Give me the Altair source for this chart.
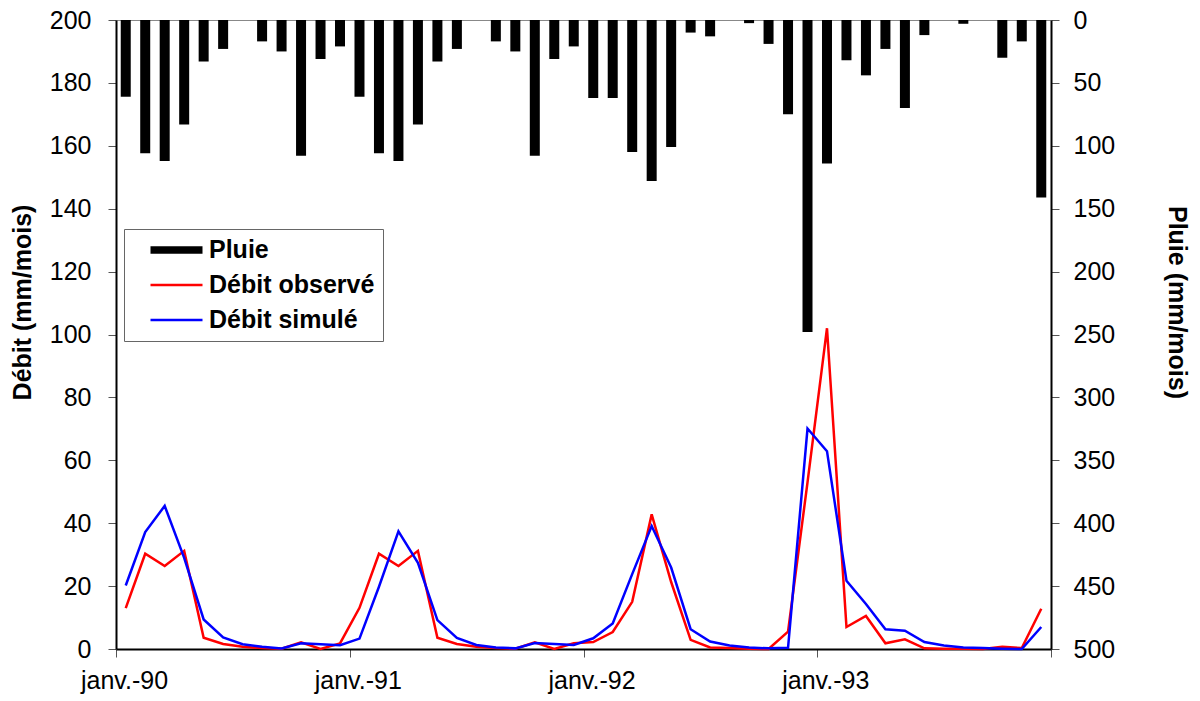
import altair as alt
import pandas as pd

# ---- data (monthly, Jan 1990 -> Dec 1993) ----
x_labels = ["janv.-90", "janv.-91", "janv.-92", "janv.-93"]
month_index = list(range(48))

pluie = [61, 106, 112, 83, 33, 23, 0, 17, 25, 108, 31, 21,
         61, 106, 112, 83, 33, 23, 0, 17, 25, 108, 31, 21,
         62, 62, 105, 128, 101, 10, 13, 0, 2.5, 19, 75, 248,
         114, 32, 44, 23, 70, 12, 0, 3, 0, 30, 17, 141]

debit_obs = [13.0, 30.3, 26.4, 31.2, 3.6, 1.6, 0.7, 0.3, 0.1, 2.1, 0.0, 1.8,
             13.1, 30.3, 26.4, 31.2, 3.6, 1.6, 0.7, 0.3, 0.1, 2.1, 0.0, 1.8,
             2.2, 5.4, 15.0, 42.8, 21.3, 2.9, 0.5, 0.3, 0.1, 0.0, 5.5, 53.0,
             102.0, 7.0, 10.5, 1.8, 3.1, 0.2, 0.1, 0.05, 0.0, 0.7, 0.3, 12.8]

debit_sim = [20.2, 37.2, 45.5, 29.0, 9.4, 3.7, 1.5, 0.7, 0.2, 1.8, 1.5, 1.2,
             3.3, 19.8, 37.4, 27.4, 9.2, 3.5, 1.3, 0.5, 0.2, 1.9, 1.6, 1.3,
             3.4, 8.1, 23.8, 39.1, 25.9, 6.3, 2.4, 1.1, 0.5, 0.2, 0.4, 70.1,
             62.9, 21.7, 14.3, 6.3, 5.8, 2.2, 1.1, 0.5, 0.3, 0.1, 0.0, 7.0]

series = ["Pluie", "Débit observé", "Débit simulé"]
colors = ["#000000", "#FF0000", "#0000FF"]

FONT = "Liberation Sans"

# month centres sit in the middle of each monthly category
centres = [m + 0.5 for m in month_index]

df_bar = pd.DataFrame({"t": centres, "pluie": pluie, "serie": series[0]})
df_line = pd.concat([
    pd.DataFrame({"t": centres, "debit": debit_obs, "serie": series[1]}),
    pd.DataFrame({"t": centres, "debit": debit_sim, "serie": series[2]}),
], ignore_index=True)

label_expr = "[" + ",".join("'" + s + "'" for s in x_labels + [""]) + "][datum.value / 12]"

x_enc = alt.X(
    "t:Q",
    scale=alt.Scale(domain=[0, 48], nice=False, zero=False, padding=0),
    axis=alt.Axis(
        values=[0, 12, 24, 36, 48], labelExpr=label_expr, labelOffset=8,
        labelFlush=False, labelOverlap=False, title=None, grid=False,
        tickSize=8, tickColor="#555", tickWidth=1,
        domainColor="#000", domainWidth=2, labelPadding=11,
        labelFontSize=25, labelFont=FONT, labelColor="#000",
    ),
)

color_scale = alt.Scale(domain=series, range=colors)

legend = alt.Legend(
    title=None, orient="none", legendX=8, legendY=209,
    symbolType="stroke", symbolSize=2704,
    symbolStrokeWidth={"expr": "datum.value === '" + series[0] + "' ? 7.5 : 2.5"},
    clipHeight=26, rowPadding=9, padding=8, symbolOffset=32, labelOffset=20,
    labelFontSize=25, labelFontWeight="bold", labelFont=FONT, labelColor="#000",
    labelLimit=400, strokeColor="#666", fillColor="#FFFFFF",
)

bars = alt.Chart(df_bar).mark_bar(width=10).encode(
    x=x_enc,
    y=alt.Y(
        "pluie:Q",
        scale=alt.Scale(domain=[0, 500], reverse=True, nice=False),
        axis=alt.Axis(
            orient="right", values=list(range(0, 501, 50)),
            title="Pluie (mm/mois)", titleFontSize=25, titleFontWeight="bold",
            titleFont=FONT, titleColor="#000", titleX=125, titleY=282,
            titleBaseline="middle",
            grid=False, tickSize=8, tickColor="#555", tickWidth=1,
            domainColor="#000", domainWidth=2, labelPadding=14,
            labelFontSize=25, labelFont=FONT, labelColor="#000",
        ),
    ),
    y2=alt.datum(0),
    color=alt.Color("serie:N", scale=color_scale, legend=legend),
)

lines = alt.Chart(df_line).mark_line(strokeWidth=2.5).encode(
    x=x_enc,
    y=alt.Y(
        "debit:Q",
        scale=alt.Scale(domain=[0, 200], nice=False),
        axis=alt.Axis(
            orient="left", values=list(range(0, 201, 20)),
            title="Débit (mm/mois)", titleFontSize=25, titleFontWeight="bold",
            titleFont=FONT, titleColor="#000", titleX=-94, titleY=282,
            titleBaseline="middle",
            grid=False, tickSize=8, tickColor="#555", tickWidth=1,
            domainColor="#000", domainWidth=2, labelPadding=17,
            labelFontSize=25, labelFont=FONT, labelColor="#000",
        ),
    ),
    color=alt.Color("serie:N", scale=color_scale, legend=legend),
)

chart = alt.layer(bars, lines).resolve_scale(y="independent").properties(
    width=935, height=629,
    autosize=alt.AutoSizeParams(type="none"),
    padding={"left": 108, "top": 12, "right": 141, "bottom": 52},
    background="#FFFFFF",
).configure_view(stroke="#888", strokeWidth=1)

chart.save("out.html", embed_options={"renderer": "svg", "actions": False})
